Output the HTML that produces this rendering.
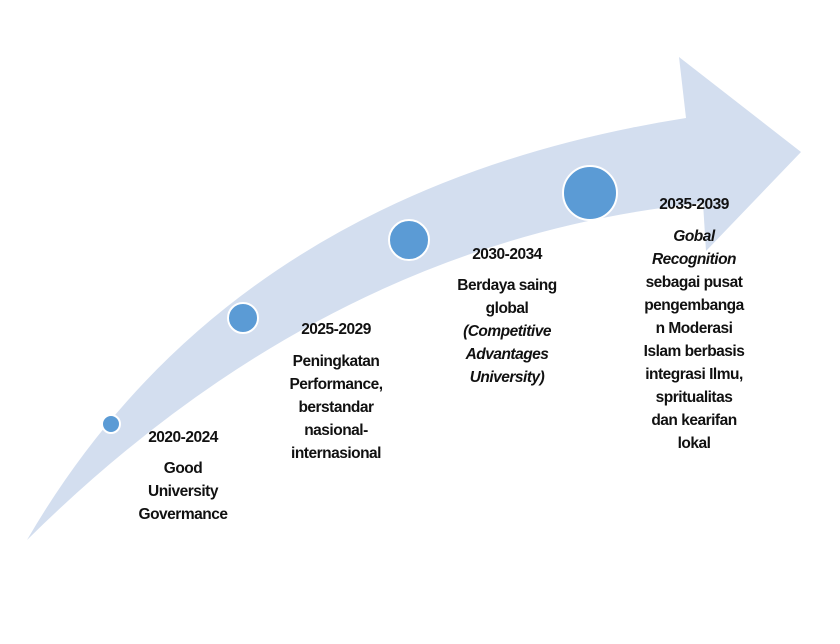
<!DOCTYPE html>
<html><head><meta charset="utf-8"><style>
html,body{margin:0;padding:0;background:#fff;width:840px;height:644px;overflow:hidden}
svg{display:block}
text{font-family:"Liberation Sans",sans-serif;font-weight:bold;font-size:15.5px;fill:#111;text-anchor:middle;letter-spacing:-0.5px}
.i{font-style:italic}
</style></head><body>
<svg width="840" height="644" viewBox="0 0 840 644">
<path fill="#d3deef" d="M27,540 Q230,190 686,118 L679,57 L801,152 L706,251 L703,203 Q330,240 27,540 Z"/>
<g fill="#5b9bd5" stroke="#fff" stroke-width="2">
<circle cx="111" cy="424" r="9"/>
<circle cx="243" cy="318" r="15"/>
<circle cx="409" cy="240" r="20"/>
<circle cx="590" cy="193" r="27"/>
</g>
<g>
<text x="183" y="442">2020-2024</text>
<text x="183" y="473">Good</text>
<text x="183" y="496">University</text>
<text x="183" y="519">Govermance</text>
</g>
<g>
<text x="336" y="334">2025-2029</text>
<text x="336" y="366">Peningkatan</text>
<text x="336" y="389">Performance,</text>
<text x="336" y="412">berstandar</text>
<text x="336" y="435">nasional-</text>
<text x="336" y="458">internasional</text>
</g>
<g>
<text x="507" y="259">2030-2034</text>
<text x="507" y="290">Berdaya saing</text>
<text x="507" y="313">global</text>
<text x="507" y="336" class="i">(Competitive</text>
<text x="507" y="359" class="i">Advantages</text>
<text x="507" y="382" class="i">University)</text>
</g>
<g>
<text x="694" y="209">2035-2039</text>
<text x="694" y="241" class="i">Gobal</text>
<text x="694" y="264" class="i">Recognition</text>
<text x="694" y="287">sebagai pusat</text>
<text x="694" y="310">pengembanga</text>
<text x="694" y="333">n Moderasi</text>
<text x="694" y="356">Islam berbasis</text>
<text x="694" y="379">integrasi Ilmu,</text>
<text x="694" y="402">spritualitas</text>
<text x="694" y="425">dan kearifan</text>
<text x="694" y="448">lokal</text>
</g>
</svg>
</body></html>
